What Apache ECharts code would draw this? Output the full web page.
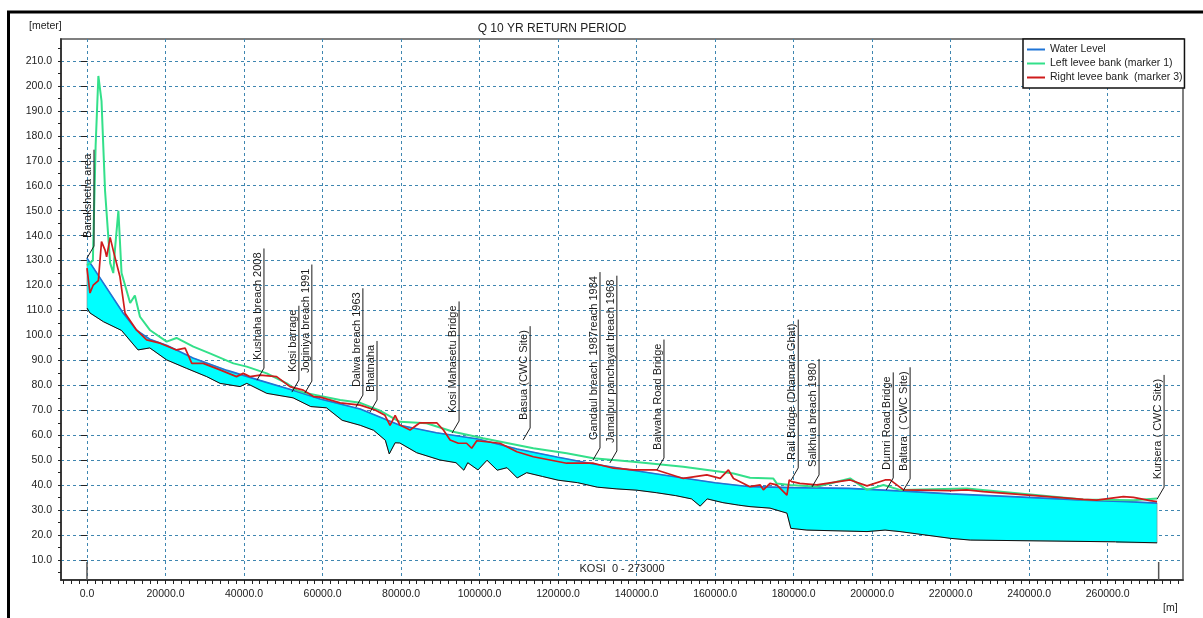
<!DOCTYPE html>
<html>
<head>
<meta charset="utf-8">
<title>Q 10 YR RETURN PERIOD</title>
<script src="https://cdn.jsdelivr.net/npm/echarts@6.0.0/dist/echarts.min.js"></script>
<style>
    html, body { margin: 0; padding: 0; background: #fff; }
    #chart { width: 1203px; height: 618px; }
</style>
</head>
<body>
<div id="chart"></div>
<script>
// chainage [m] / level [meter]
let waterX = [0, 9200, 12700, 16000, 20400, 27000, 35700, 44000, 52500, 59400, 69600, 79700, 89000, 99600,
    109600, 119700, 129000, 139000, 151800, 160000, 168900, 180000, 194000, 208000, 220000, 237000, 254000, 265000, 272600];
let waterY = [131, 109, 102, 98.5, 96, 91, 86, 82, 78, 74.5, 70.5, 64, 61, 58.5,
    54.5, 51.3, 48.5, 46, 42.9, 41, 39.4, 39, 38.7, 37.6, 36.5, 35.3, 34, 33.4, 32.8];

let bedX = [0, 760, 4200, 8800, 13000, 16000, 20300, 25400, 30500, 33900, 39000, 40700, 45800, 52500, 57000, 61000,
    65000, 69600, 73000, 76000, 77000, 78500, 79700, 84000, 89900, 94000, 96000, 97000, 99600, 101900, 104500, 107000,
    109600, 112000, 116000, 120000, 125000, 130000, 135000, 140000, 145000, 150000, 154000, 156200, 158000, 162000,
    166000, 168900, 174000, 178300, 179300, 183400, 198700, 203300, 207100, 219900, 225000, 262000, 262300, 272600];
let bedY = [111, 109, 105.5, 102, 94.2, 95, 90.2, 86.8, 83.5, 80.8, 79.5, 80.8, 76.8, 75, 71.5, 71,
    66, 64, 62, 58, 52.5, 57, 56.9, 53, 50.1, 49, 46, 49, 46.1, 50, 46, 47,
    42.9, 45, 43.5, 42, 41, 39.2, 38.5, 38, 37, 35.8, 34.5, 31.6, 34.5, 33,
    32, 31.4, 30.8, 28.8, 22.7, 22, 21.4, 22, 21.4, 18.7, 18, 17.3, 17, 16.9];

let leftX = [0, 1500, 2200, 2900, 3700, 4600, 5900, 6700, 7100, 8000, 8800, 11000, 12200, 13500, 16000, 20300,
    22800, 27100, 31300, 37300, 40700, 45800, 50900, 53400, 56000, 59400, 64500, 69600, 74500, 79700, 86500, 93300,
    100900, 113700, 122200, 129000, 139200, 151900, 164700, 168900, 174800, 175700, 179100, 185900, 194400, 198700,
    202900, 207100, 224100, 253800, 266600, 272600];
let leftY = [128, 130, 176, 204, 194, 158, 129, 125, 134, 150, 125, 113, 116, 107.5, 102.2, 97.5,
    99, 95.5, 92.8, 88.8, 87.5, 84.8, 80.8, 78.1, 76.8, 75.7, 74.1, 73, 70, 65.4, 64.8, 61.4,
    58.8, 54.8, 52.8, 50.8, 49.4, 47.4, 44.7, 43, 42.7, 40.7, 40.1, 39.4, 42.7, 38.1,
    40.1, 38.1, 38.7, 34.3, 34, 34.7];

let rightX = [0, 760, 1600, 2900, 3700, 4600, 5000, 5900, 6700, 8400, 9700, 12600, 15200, 18600, 22800, 25000,
    26700, 29600, 33900, 38100, 39800, 41500, 44100, 48300, 51700, 55100, 57700, 59400, 64500, 69600, 73400, 75900,
    77200, 78500, 79700, 82300, 84800, 89100, 90800, 92500, 94600, 96700, 98000, 99300, 105200, 109500, 113700,
    122200, 129000, 134100, 139200, 145100, 151900, 157900, 161300, 163400, 164700, 168900, 171500, 172300, 174000,
    175700, 178300, 178900, 179500, 181600, 185900, 194400, 198700, 203300, 204600, 208000, 219900, 224100, 228300,
    253800, 257200, 264000, 266600, 270800, 272600];
let rightY = [127, 117, 120.2, 122, 137.6, 134.2, 131.5, 139.3, 134, 123.5, 108.9, 102.2, 98.2, 96.9, 94.2, 94.9,
    88.8, 88.8, 86.2, 83.5, 84.8, 83.5, 84.1, 83.5, 79.5, 78.1, 75.5, 75.3, 73, 72.1, 70.1, 68,
    64, 68, 64.1, 62.1, 65, 65, 62.1, 58.1, 56.8, 56.8, 54.8, 57.8, 56.8, 53.4, 51.4,
    48.8, 48.8, 46.8, 46.1, 46.1, 42.7, 44.1, 42.7, 46.1, 42.7, 39.4, 40.1, 38.1, 40.7,
    40.1, 36, 42.1, 41.4, 40.7, 40.1, 42.1, 39.7, 42.1, 42.1, 38.1, 37.8, 38.1, 37.4,
    34.3, 34, 35.4, 35.1, 33.8, 33.4];

let markerNames = ['Barakshetra area', 'Kushaha breach 2008', 'Kosi barrage', 'Joginiya breach 1991',
    'Dalwa breach 1963', 'Bhatnaha', 'Kosi Mahasetu Bridge', 'Basua (CWC Site)', 'Gandaul breach  1987reach 1984',
    'Jamalpur panchayat breach 1968', 'Balwaha Road Bridge', 'Rail Bridge (Dhamara Ghat)', 'Salkhua breach 1980',
    'Dumri Road Bridge', 'Baltara  ( CWC Site)', 'Kursera ( CWC Site)'];
let markerX = [0, 43300, 52200, 55500, 68500, 72100, 93000, 111100, 128900, 133200, 145200, 179400, 184700,
    203600, 207900, 272600];
let markerY = [131, 82.1, 77.3, 76.9, 71.3, 69.3, 60.9, 58.1, 50.1, 48.9, 46.1, 42.1, 39.3, 38.1, 37.7, 34.4];

let branchEnds = [0, 273000];

let xLabels = [0, 20000, 40000, 60000, 80000, 100000, 120000, 140000, 160000, 180000, 200000, 220000, 240000, 260000];
let yLabels = [10, 20, 30, 40, 50, 60, 70, 80, 90, 100, 110, 120, 130, 140, 150, 160, 170, 180, 190, 200, 210];

let xMinorTicks = [];
for (let v = -6000; v <= 278000; v += 2000) xMinorTicks.push(v);
let yMinorTicks = [];
for (let v = 5; v <= 215; v += 5) yMinorTicks.push(v);

let zip = function (xs, ys) {
    return xs.map(function (x, i) { return [x, ys[i]]; });
};

let font = '"Liberation Sans", Arial, sans-serif';
let markerFont = '11px ' + font;
let measureCtx = document.createElement('canvas').getContext('2d');
let textWidth = function (str) {
    measureCtx.font = markerFont;
    return measureCtx.measureText(str).width;
};

let renderFill = function (params, api) {
    let pts = [];
    for (let i = 0; i < waterX.length; i++) pts.push(api.coord([waterX[i], waterY[i]]));
    for (let i = bedX.length - 1; i >= 0; i--) pts.push(api.coord([bedX[i], bedY[i]]));
    return {
        type: 'polygon',
        shape: { points: pts },
        style: { fill: '#00ffff', stroke: '#7a8a8a', lineWidth: 0.6 }
    };
};

let renderMarker = function (params, api) {
    let p = api.coord([api.value(0), api.value(1)]);
    let name = markerNames[params.dataIndex];
    let x = p[0] + 7;
    let y0 = p[1] - 12;
    let y1 = y0 - textWidth(name) - 12;
    return {
        type: 'group',
        children: [
            {
                type: 'polyline',
                shape: { points: [[p[0], p[1]], [x, y0], [x, y1]] },
                style: { stroke: '#1a1a1a', lineWidth: 1, fill: null }
            },
            {
                type: 'text',
                x: x - 6,
                y: y0 - 8,
                rotation: Math.PI / 2,
                style: { text: name, font: markerFont, fill: '#1a1a1a', align: 'left', verticalAlign: 'middle' }
            }
        ]
    };
};

let renderBranchEnd = function (params, api) {
    let p = api.coord([api.value(0), 2]);
    return {
        type: 'line',
        shape: { x1: p[0], y1: p[1], x2: p[0], y2: p[1] - 18 },
        style: { stroke: '#555', lineWidth: 1.5 }
    };
};

let dom = document.getElementById('chart');
let myChart = echarts.init(dom, null, { renderer: 'canvas' });

let axisText = { fontSize: 10.5, color: '#222', fontFamily: font };
let gridLine = { show: true, lineStyle: { color: '#3f86b0', type: [3, 3], width: 1 } };

let option = {
    animation: false,
    backgroundColor: '#fff',
    grid: {
        left: 61, right: 20, top: 39, bottom: 38,
        show: true, borderColor: '#7f7f7f', borderWidth: 2, backgroundColor: '#fff'
    },
    legend: {
        data: ['Water Level', 'Left levee bank (marker 1)', 'Right levee bank  (marker 3)'],
        orient: 'vertical',
        left: 1023, top: 39,
        padding: [5, 2, 5, 4],
        itemWidth: 18, itemHeight: 2, itemGap: 3,
        icon: 'rect',
        borderColor: '#111', borderWidth: 1.5,
        backgroundColor: '#fff',
        textStyle: { fontSize: 10.5, color: '#222', fontFamily: font, padding: [0, 0, 0, 0] }
    },
    xAxis: [
        {
            type: 'value', position: 'bottom', min: -6620, max: 279200,
            axisLine: { show: true, onZero: false, lineStyle: { color: '#222', width: 1.5 } },
            axisTick: { show: true, length: 4, customValues: xMinorTicks, lineStyle: { color: '#222' } },
            axisLabel: { customValues: xLabels, margin: 9, formatter: function (v) { return v.toFixed(1); }, ...axisText },
            splitLine: { show: false }
        },
        {
            type: 'value', position: 'bottom', min: -6620, max: 279200,
            axisLine: { show: false },
            axisTick: { show: false, customValues: xLabels },
            axisLabel: { show: false },
            splitLine: gridLine
        }
    ],
    yAxis: [
        {
            type: 'value', position: 'left', min: 2, max: 218.8,
            axisLine: { show: true, onZero: false, lineStyle: { color: '#222', width: 1.5 } },
            axisTick: { show: true, length: 3, customValues: yMinorTicks, lineStyle: { color: '#222' } },
            axisLabel: { customValues: yLabels, margin: 9, formatter: function (v) { return v.toFixed(1); }, ...axisText },
            splitLine: { show: false }
        },
        {
            type: 'value', position: 'left', min: 2, max: 218.8,
            axisLine: { show: false },
            axisTick: { show: true, length: 6, customValues: yLabels, lineStyle: { color: '#222' } },
            axisLabel: { show: false },
            splitLine: gridLine
        }
    ],
    graphic: [
        { type: 'rect', shape: { x: 8.5, y: 12, width: 1300, height: 700 }, style: { fill: null, stroke: '#000', lineWidth: 3 }, z: 100 },
        { type: 'text', x: 552, y: 29, style: { text: 'Q 10 YR RETURN PERIOD', font: '12px ' + font, fill: '#222', align: 'center', verticalAlign: 'middle' } },
        { type: 'text', x: 29, y: 26, style: { text: '[meter]', font: '10.5px ' + font, fill: '#222', align: 'left', verticalAlign: 'middle' } },
        { type: 'text', x: 1163, y: 608, style: { text: '[m]', font: '10.5px ' + font, fill: '#222', align: 'left', verticalAlign: 'middle' } },
        { type: 'text', x: 622, y: 569, z: 50, style: { text: 'KOSI  0 - 273000', font: '11px ' + font, fill: '#222', align: 'center', verticalAlign: 'middle' } }
    ],
    series: [
        {
            name: 'fill', type: 'custom', data: [[0, 0]], renderItem: renderFill, clip: true, silent: true, z: 1
        },
        {
            name: 'Bed', type: 'line', data: zip(bedX, bedY), symbol: 'none',
            lineStyle: { color: '#111', width: 1 }, z: 2
        },
        {
            name: 'Water Level', type: 'line', data: zip(waterX, waterY), symbol: 'none',
            color: '#1f74d6', lineStyle: { color: '#1f74d6', width: 1.6 }, z: 3
        },
        {
            name: 'Left levee bank (marker 1)', type: 'line', data: zip(leftX, leftY), symbol: 'none',
            color: '#33e08a', lineStyle: { color: '#33e08a', width: 2 }, z: 4
        },
        {
            name: 'Right levee bank  (marker 3)', type: 'line', data: zip(rightX, rightY), symbol: 'none',
            color: '#cf1b1b', lineStyle: { color: '#cf1b1b', width: 1.7 }, z: 5
        },
        {
            name: 'markers', type: 'custom', data: zip(markerX, markerY), renderItem: renderMarker, clip: false, silent: true, z: 6
        },
        {
            name: 'ends', type: 'custom', data: branchEnds.map(function (v) { return [v]; }), renderItem: renderBranchEnd, clip: false, silent: true, z: 6
        }
    ]
};

myChart.setOption(option, true);
</script>
</body>
</html>
